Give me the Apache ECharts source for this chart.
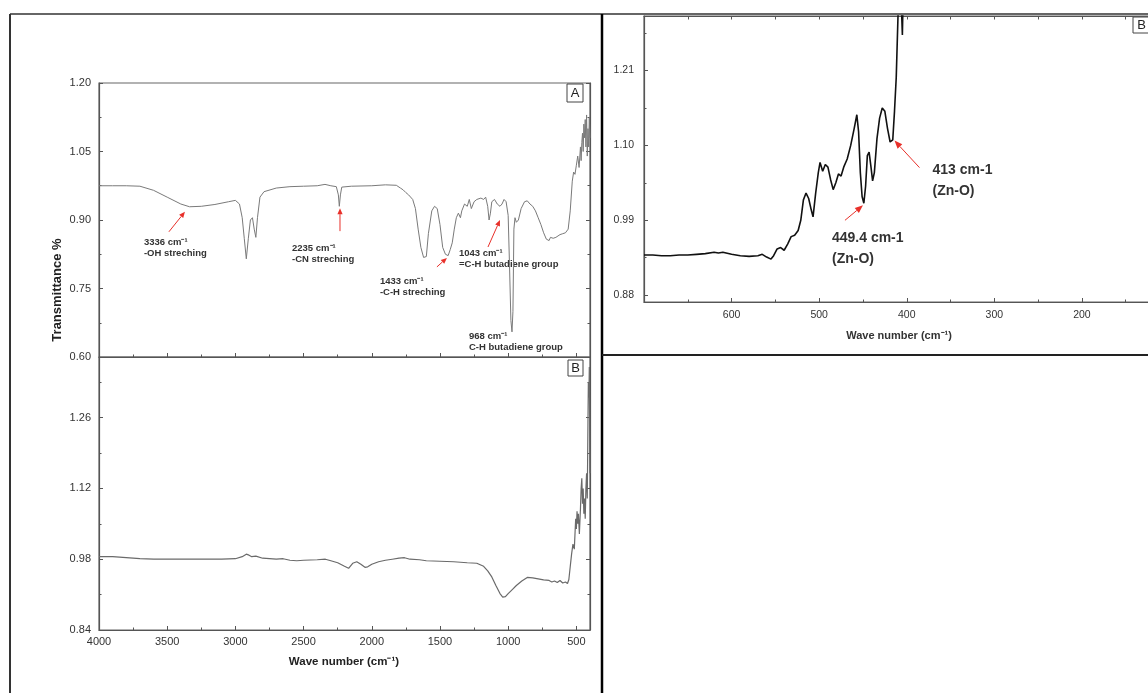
<!DOCTYPE html>
<html><head><meta charset="utf-8">
<script src="https://cdn.jsdelivr.net/npm/echarts@6/dist/echarts.min.js"></script>
<style>html,body{margin:0;padding:0;background:#fff}#c{width:1148px;height:693px}</style>
</head><body><div id="c"></div>
<script>
// ---------------- DATA ----------------
// Panel A: FTIR spectrum [wavenumber cm-1, transmittance]
const spectrumA = [
 [4000,0.975],[3900,0.975],[3800,0.975],[3700,0.974],[3600,0.965],[3500,0.950],[3400,0.935],[3336,0.929],
 [3250,0.930],[3150,0.934],[3050,0.940],[3000,0.943],[2970,0.935],[2950,0.905],[2935,0.860],[2920,0.815],
 [2905,0.860],[2890,0.900],[2875,0.905],[2862,0.880],[2850,0.862],[2838,0.905],[2820,0.950],[2790,0.962],
 [2700,0.970],[2600,0.973],[2500,0.974],[2400,0.975],[2343,0.978],[2300,0.975],[2260,0.973],[2245,0.955],
 [2238,0.930],[2230,0.955],[2220,0.972],[2150,0.974],[2000,0.975],[1900,0.977],[1820,0.976],[1790,0.970],
 [1770,0.966],[1750,0.960],[1730,0.955],[1700,0.945],[1680,0.925],[1660,0.880],[1640,0.840],[1620,0.818],
 [1600,0.820],[1585,0.870],[1560,0.920],[1540,0.930],[1520,0.925],[1500,0.890],[1480,0.840],[1460,0.825],
 [1440,0.822],[1425,0.835],[1410,0.850],[1395,0.880],[1380,0.905],[1365,0.915],[1350,0.905],[1340,0.920],
 [1320,0.935],[1300,0.930],[1285,0.945],[1270,0.925],[1250,0.940],[1230,0.945],[1200,0.948],[1180,0.945],
 [1165,0.950],[1150,0.930],[1140,0.900],[1130,0.915],[1120,0.940],[1100,0.945],[1080,0.935],[1060,0.930],
 [1045,0.935],[1030,0.945],[1015,0.940],[1000,0.910],[990,0.800],[980,0.680],[972,0.655],[965,0.700],
 [958,0.880],[950,0.905],[940,0.895],[925,0.900],[905,0.925],[880,0.940],[860,0.942],[840,0.935],
 [820,0.930],[800,0.920],[780,0.905],[760,0.890],[740,0.872],[720,0.858],[700,0.855],[690,0.862],
 [670,0.860],[650,0.862],[620,0.868],[600,0.870],[580,0.872],[560,0.880],[545,0.920],[530,0.985],
 [520,1.005],[510,1.000],[500,1.020],[490,1.040],[480,1.015],[470,1.060],[465,1.030],[460,1.070],
 [455,1.090],[450,1.050],[445,1.110],[440,1.080],[435,1.120],[430,1.060],[425,1.130],[420,1.040],
 [415,1.100],[410,1.060],[405,1.125],[400,1.080]
];
// Panel B: FTIR spectrum
const spectrumB = [
 [4000,0.985],[3900,0.985],[3800,0.983],[3700,0.981],[3600,0.980],[3500,0.980],[3300,0.980],[3100,0.980],
 [3000,0.981],[2950,0.985],[2920,0.990],[2900,0.988],[2880,0.985],[2850,0.986],[2800,0.982],[2700,0.980],
 [2650,0.981],[2600,0.978],[2550,0.977],[2500,0.978],[2400,0.979],[2340,0.980],[2300,0.977],[2250,0.973],
 [2200,0.966],[2170,0.962],[2140,0.972],[2110,0.975],[2080,0.970],[2050,0.964],[2030,0.965],[2000,0.970],
 [1950,0.975],[1900,0.978],[1850,0.980],[1800,0.982],[1760,0.983],[1720,0.980],[1650,0.979],[1600,0.977],
 [1500,0.976],[1400,0.975],[1300,0.973],[1230,0.972],[1180,0.966],[1150,0.957],[1120,0.945],[1090,0.928],
 [1060,0.912],[1040,0.905],[1020,0.906],[1000,0.912],[970,0.920],[940,0.928],[900,0.937],[860,0.944],
 [820,0.943],[780,0.941],[740,0.939],[700,0.938],[680,0.935],[660,0.937],[640,0.934],[620,0.938],
 [600,0.933],[580,0.935],[565,0.932],[555,0.940],[545,0.965],[535,0.990],[525,1.010],[515,1.000],
 [505,1.060],[500,1.040],[495,1.075],[490,1.050],[485,1.070],[478,1.030],[470,1.080],[465,1.120],
 [460,1.140],[455,1.090],[450,1.120],[445,1.070],[440,1.100],[435,1.060],[430,1.120],[425,1.150],
 [420,1.100],[415,1.250],[412,1.330],[408,1.300],[405,1.360],[402,1.200],[400,1.150]
];
// Inset: Zn-O region
const spectrumZnO = [
 [700,0.939],[690,0.939],[680,0.938],[670,0.938],[660,0.939],[650,0.939],[640,0.940],[630,0.941],
 [620,0.943],[615,0.942],[610,0.943],[600,0.940],[590,0.938],[580,0.937],[570,0.938],[565,0.940],
 [560,0.936],[555,0.933],[552,0.938],[548,0.948],[544,0.950],[540,0.946],[536,0.955],[532,0.966],
 [528,0.968],[524,0.975],[521,0.990],[518,1.020],[515,1.030],[512,1.022],[509,1.005],[507,0.995],
 [504,1.030],[501,1.060],[499,1.075],[496,1.062],[493,1.072],[490,1.068],[487,1.050],[484,1.035],
 [481,1.045],[478,1.058],[475,1.055],[472,1.068],[468,1.080],[464,1.100],[460,1.125],[457,1.145],
 [455,1.120],[453,1.060],[451,1.025],[449,1.015],[447,1.040],[445,1.085],[443,1.090],[441,1.070],
 [439,1.048],[437,1.060],[434,1.110],[431,1.140],[428,1.155],[425,1.150],[422,1.125],[419,1.105],
 [416,1.108],[414,1.150],[412,1.200],[410,1.290],[408,1.320],[406,1.300],[405,1.262],[404,1.330],
 [402,1.350],[400,1.360]
];
// Tick values
const mainXMajor = [4000,3500,3000,2500,2000,1500,1000,500];
const mainXMinor = [3750,3250,2750,2250,1750,1250,750];
const insetXMajor = [600,500,400,300,200];
const insetXMinor = [650,550,450,350,250,150];
const insetYMajor = [0.88,0.99,1.10,1.21];
const insetYMinor = [0.935,1.045,1.155,1.265];
// Text
const yTitle = 'Transmittance %';
const xTitle = 'Wave number (cm⁻¹)';
const panelLabels = ['A','B','B'];
const annotationsA = [
 {wn:3370, val:0.918, tail:[-16,20], text:[-41,31], lines:['3336 cm⁻¹','-OH streching']},
 {wn:2233, val:0.926, tail:[0,23], text:[-48,40], lines:['2235 cm⁻¹','-CN streching']},
 {wn:1449, val:0.817, tail:[-10,9], text:[-67,23], lines:['1433 cm⁻¹','-C-H streching']},
 {wn:1060, val:0.900, tail:[-12,27], text:[-41,33], lines:['1043 cm⁻¹','=C-H butadiene group']},
 {wn:972,  val:0.659, tail:null,    text:[-43,6],  lines:['968 cm⁻¹','C-H butadiene group']}
];
const annotationsInset = [
 {wn:450, val:1.012, tail:[-18,15], text:[-31,33], lines:['449.4 cm-1','(Zn-O)']},
 {wn:414, val:1.107, tail:[25,27],  text:[38,30],  lines:['413 cm-1','(Zn-O)']}
];

// ---------------- CHART ----------------
const FONT = '"Liberation Sans", Arial, sans-serif';
const AXC = '#555';
const LBL = {fontFamily:FONT, fontSize:11, color:'#333'};
const chart = echarts.init(document.getElementById('c'), null, {renderer:'canvas'});

function ax(o){
  return Object.assign({
    type:'value', splitLine:{show:false}, scale:false,
    axisLine:{show:true, onZero:false, lineStyle:{color:AXC, width:1.2}}
  }, o);
}
const tick = (vals, len) => ({show:true, inside:true, length:len, customValues:vals, lineStyle:{color:AXC, width:1}});
const noLabel = {show:false};
const fmt2 = v => v.toFixed(2);
const fmt0 = v => String(Math.round(v));

const gridBase = {show:true, borderColor:'#666', borderWidth:1.2, backgroundColor:'transparent', containLabel:false, outerBoundsMode:'none'};

const option = {
  animation:false,
  backgroundColor:'#fff',
  grid:[
    Object.assign({left:99, top:83, width:491, height:274}, gridBase),
    Object.assign({left:99, top:357, width:491, height:273}, gridBase),
    Object.assign({left:644, top:16, width:508, height:286}, gridBase)
  ],
  xAxis:[
    ax({gridIndex:0, min:400, max:4000, inverse:true, position:'bottom', axisTick:tick(mainXMajor,4), axisLabel:noLabel}),
    ax({gridIndex:0, min:400, max:4000, inverse:true, position:'bottom', axisLine:{show:false}, axisTick:tick(mainXMinor,2.5), axisLabel:noLabel}),
    ax({gridIndex:1, min:400, max:4000, inverse:true, position:'bottom', axisTick:tick(mainXMajor,4),
        axisLabel:Object.assign({customValues:mainXMajor, margin:6, formatter:fmt0}, LBL)}),
    ax({gridIndex:1, min:400, max:4000, inverse:true, position:'bottom', axisLine:{show:false}, axisTick:tick(mainXMinor,2.5), axisLabel:noLabel}),
    ax({gridIndex:2, min:120, max:700, inverse:true, position:'bottom', axisTick:tick(insetXMajor,4),
        axisLabel:Object.assign({customValues:insetXMajor, margin:8, formatter:fmt0}, LBL, {fontSize:10.5})}),
    ax({gridIndex:2, min:120, max:700, inverse:true, position:'bottom', axisLine:{show:false}, axisTick:tick(insetXMinor,2.5), axisLabel:noLabel}),
    ax({gridIndex:2, min:120, max:700, inverse:true, position:'top', axisTick:tick(insetXMajor.concat(insetXMinor),3.5), axisLabel:noLabel})
  ],
  yAxis:[
    ax({gridIndex:0, min:0.6, max:1.2, interval:0.15, position:'left',
        axisTick:{show:true, inside:true, length:4, lineStyle:{color:AXC}},
        minorTick:{show:true, splitNumber:2, length:2.5, lineStyle:{color:AXC}},
        axisLabel:Object.assign({formatter:fmt2, margin:8}, LBL)}),
    ax({gridIndex:0, min:0.6, max:1.2, interval:0.15, position:'right',
        axisTick:{show:true, inside:true, length:4, lineStyle:{color:AXC}},
        minorTick:{show:true, splitNumber:2, length:2.5, lineStyle:{color:AXC}}, axisLabel:noLabel}),
    ax({gridIndex:1, min:0.84, max:1.38, interval:0.14, position:'left',
        axisTick:{show:true, inside:true, length:4, lineStyle:{color:AXC}},
        minorTick:{show:true, splitNumber:2, length:2.5, lineStyle:{color:AXC}},
        axisLabel:Object.assign({formatter:fmt2, margin:8, showMaxLabel:false}, LBL)}),
    ax({gridIndex:1, min:0.84, max:1.38, interval:0.14, position:'right',
        axisTick:{show:true, inside:true, length:4, lineStyle:{color:AXC}},
        minorTick:{show:true, splitNumber:2, length:2.5, lineStyle:{color:AXC}}, axisLabel:noLabel}),
    ax({gridIndex:2, min:0.87, max:1.29, position:'left', axisTick:tick(insetYMajor,4),
        axisLabel:Object.assign({customValues:insetYMajor, formatter:fmt2, margin:10}, LBL, {fontSize:10.5})}),
    ax({gridIndex:2, min:0.87, max:1.29, position:'left', axisLine:{show:false}, axisTick:tick(insetYMinor,2.5), axisLabel:noLabel})
  ],
  series:[
    {type:'line', xAxisIndex:0, yAxisIndex:0, data:spectrumA, showSymbol:false, symbol:'none', clip:true,
     lineStyle:{color:'#7a7a7a', width:1}},
    {type:'line', xAxisIndex:2, yAxisIndex:2, data:spectrumB, showSymbol:false, symbol:'none', clip:true,
     lineStyle:{color:'#6a6a6a', width:1.2}},
    {type:'line', xAxisIndex:4, yAxisIndex:4, data:spectrumZnO, showSymbol:false, symbol:'none', clip:true,
     lineStyle:{color:'#111', width:1.6}}
  ]
};
chart.setOption(option);

// ---------------- ANNOTATIONS ----------------
function px(xi, yi, x, y){ return chart.convertToPixel({xAxisIndex:xi, yAxisIndex:yi}, [x, y]); }
function arrowEls(x1,y1,x2,y2,color,L,W){
  const a = Math.atan2(y2-y1, x2-x1);
  const bx = x2 - L*Math.cos(a), by = y2 - L*Math.sin(a);
  const nx = -Math.sin(a), ny = Math.cos(a);
  return [
    {type:'line', silent:true, shape:{x1:x1, y1:y1, x2:bx, y2:by}, style:{stroke:color, lineWidth:1}},
    {type:'polygon', silent:true, shape:{points:[[x2,y2],[bx+nx*W,by+ny*W],[bx-nx*W,by-ny*W]]}, style:{fill:color}}
  ];
}
const g = [];
// frames
const line = (x1,y1,x2,y2,c,w) => ({type:'line', silent:true, z:100, shape:{x1,y1,x2,y2}, style:{stroke:c, lineWidth:w}});
g.push(line(10,14,10,693,'#333',2));
g.push(line(10,14,1148,14,'#333',1.5));
g.push(line(602,14,602,693,'#000',2.5));
g.push(line(602,355,1148,355,'#222',2));

function addAnn(list, xi, yi, fs, lh){
  list.forEach(a => {
    const p = px(xi, yi, a.wn, a.val);
    if (a.tail) g.push(...arrowEls(p[0]+a.tail[0], p[1]+a.tail[1], p[0], p[1], '#e8302a', fs>12?8:6, fs>12?3.2:2.6));
    g.push({type:'text', silent:true, x:p[0]+a.text[0], y:p[1]+a.text[1]-lh/2,
      style:{text:a.lines.join('\n'), font:'bold '+fs+'px '+FONT, fill:'#333', lineHeight:lh, verticalAlign:'top', align:'left'}});
  });
}
addAnn(annotationsA, 0, 0, 9.5, 11);
addAnn(annotationsInset, 4, 4, 14, 21);

// panel boxes
function box(xi, yi, x, y, dx, dy, w, h, t){
  const p = px(xi, yi, x, y);
  g.push({type:'rect', silent:true, shape:{x:p[0]+dx, y:p[1]+dy, width:w, height:h}, style:{fill:'#fff', stroke:'#444', lineWidth:1}});
  g.push({type:'text', silent:true, x:p[0]+dx+w/2, y:p[1]+dy+h/2+0.5,
    style:{text:t, font:'13px '+FONT, fill:'#222', align:'center', verticalAlign:'middle'}});
}
box(0, 0, 400, 1.2, -23, 1, 16, 18, panelLabels[0]);
box(2, 2, 400, 1.38, -22, 3, 15, 16, panelLabels[1]);
box(4, 4, 120, 1.29, -19, 1, 17, 16, panelLabels[2]);

// axis titles
g.push({type:'text', silent:true, x:57, y:290, rotation:Math.PI/2,
  style:{text:yTitle, font:'bold 13px '+FONT, fill:'#222', align:'center', verticalAlign:'middle'}});
const b1 = px(2, 2, 2200, 0.84);
g.push({type:'text', silent:true, x:344, y:b1[1]+32,
  style:{text:xTitle, font:'bold 11.5px '+FONT, fill:'#222', align:'center', verticalAlign:'middle'}});
const b2 = px(4, 4, 362, 0.87);
g.push({type:'text', silent:true, x:899, y:b2[1]+34,
  style:{text:xTitle, font:'bold 11px '+FONT, fill:'#333', align:'center', verticalAlign:'middle'}});

chart.setOption({graphic:{elements:g}});
</script>
</body></html>
